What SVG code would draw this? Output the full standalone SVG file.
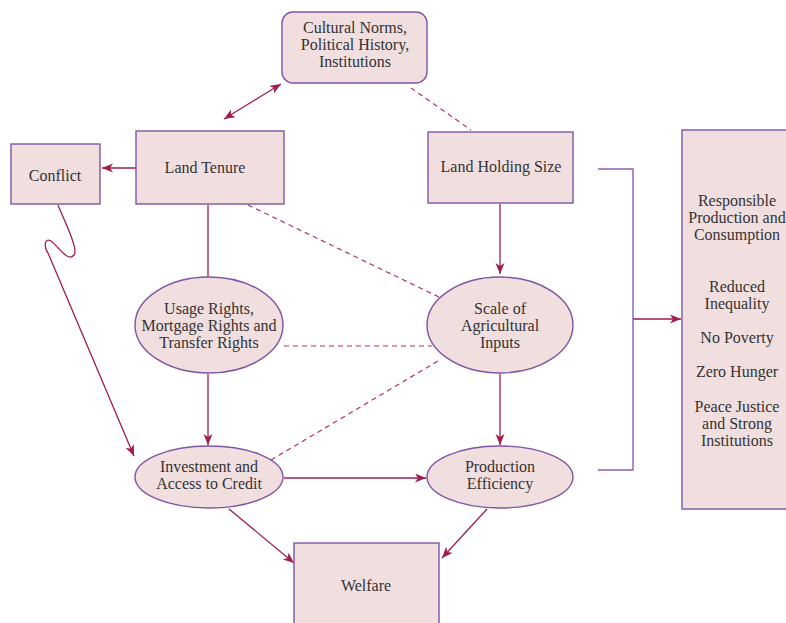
<svg xmlns="http://www.w3.org/2000/svg" width="786" height="623" viewBox="0 0 786 623">
  <style>
    .node { fill: #f1dfe0; stroke: #7d55a3; stroke-width: 1.4; }
    .lbl { font-family: "Liberation Serif", "Times New Roman", serif; font-size: 16px; fill: #333333; text-anchor: middle; }
    .edge { fill: none; stroke: #a11d4e; stroke-width: 1.3; }
    .dash { fill: none; stroke: #b0345f; stroke-width: 1.2; stroke-dasharray: 5 4; }
    .brace { fill: none; stroke: #8a5fae; stroke-width: 1.4; }
  </style>
  <defs>
    <marker id="arrow" markerUnits="userSpaceOnUse" markerWidth="12" markerHeight="10" refX="11" refY="4.5" orient="auto-start-reverse">
      <path d="M0,0 L11,4.5 L0,9 L3,4.5 z" fill="#a11d4e"/>
    </marker>
  </defs>

  <rect width="786" height="623" fill="#ffffff"/>

  <!-- connectors -->
  <g id="connectors">
    <line class="edge" x1="224" y1="119" x2="281" y2="84" marker-start="url(#arrow)" marker-end="url(#arrow)"/>
    <line class="dash" x1="411" y1="88" x2="471" y2="130"/>
    <line class="edge" x1="136" y1="168" x2="102" y2="168" marker-end="url(#arrow)"/>
    <line class="edge" x1="208" y1="205" x2="208" y2="277"/>
    <line class="dash" x1="248" y1="205" x2="441" y2="298"/>
    <line class="edge" x1="500" y1="204" x2="500" y2="274" marker-end="url(#arrow)"/>
    <line class="dash" x1="284" y1="346" x2="432" y2="346"/>
    <line class="dash" x1="271" y1="460" x2="438" y2="361"/>
    <line class="edge" x1="208" y1="374" x2="208" y2="445" marker-end="url(#arrow)"/>
    <line class="edge" x1="500" y1="374" x2="500" y2="445" marker-end="url(#arrow)"/>
    <line class="edge" x1="284" y1="478" x2="426" y2="478" marker-end="url(#arrow)"/>
    <line class="edge" x1="229" y1="509" x2="294" y2="563" marker-end="url(#arrow)"/>
    <line class="edge" x1="487" y1="509" x2="442" y2="558" marker-end="url(#arrow)"/>
    <path class="edge" d="M58,205 C64,220 79,250 74,255 C68,263 58,246 51,241 C44,237 44,248 48,253 L134,456" marker-end="url(#arrow)"/>
    <polyline class="brace" points="598,169 633,169 633,470 598,470"/>
    <line class="edge" x1="633" y1="319" x2="681" y2="319" marker-end="url(#arrow)"/>
  </g>

  <g id="cultural-norms">
    <rect class="node" x="282" y="12" width="145" height="71" rx="11"/>
    <text class="lbl" x="355" y="33">Cultural Norms,</text>
    <text class="lbl" x="355" y="50">Political History,</text>
    <text class="lbl" x="355" y="67">Institutions</text>
  </g>

  <g id="conflict">
    <rect class="node" x="11" y="144" width="89" height="60"/>
    <text class="lbl" x="55" y="181">Conflict</text>
  </g>

  <g id="land-tenure">
    <rect class="node" x="136" y="131" width="148" height="73"/>
    <text class="lbl" x="205" y="173">Land Tenure</text>
  </g>

  <g id="land-holding-size">
    <rect class="node" x="428" y="132" width="145" height="71"/>
    <text class="lbl" x="501" y="172">Land Holding Size</text>
  </g>

  <g id="usage-rights">
    <ellipse class="node" cx="209" cy="325" rx="74" ry="48"/>
    <text class="lbl" x="209" y="314">Usage Rights,</text>
    <text class="lbl" x="209" y="331">Mortgage Rights and</text>
    <text class="lbl" x="209" y="348">Transfer Rights</text>
  </g>

  <g id="scale-of-inputs">
    <ellipse class="node" cx="500" cy="325" rx="73" ry="48"/>
    <text class="lbl" x="500" y="314">Scale of</text>
    <text class="lbl" x="500" y="331">Agricultural</text>
    <text class="lbl" x="500" y="348">Inputs</text>
  </g>

  <g id="investment-credit">
    <ellipse class="node" cx="209" cy="477" rx="74" ry="31"/>
    <text class="lbl" x="209" y="472">Investment and</text>
    <text class="lbl" x="209" y="489">Access to Credit</text>
  </g>

  <g id="production-efficiency">
    <ellipse class="node" cx="500" cy="477" rx="73" ry="31"/>
    <text class="lbl" x="500" y="472">Production</text>
    <text class="lbl" x="500" y="489">Efficiency</text>
  </g>

  <g id="welfare">
    <rect class="node" x="294" y="543" width="145" height="90"/>
    <text class="lbl" x="366" y="591">Welfare</text>
  </g>

  <g id="goals">
    <rect class="node" x="682" y="130" width="120" height="379"/>
    <text class="lbl" x="737" y="206">Responsible</text>
    <text class="lbl" x="737" y="223">Production and</text>
    <text class="lbl" x="737" y="240">Consumption</text>
    <text class="lbl" x="737" y="292">Reduced</text>
    <text class="lbl" x="737" y="309">Inequality</text>
    <text class="lbl" x="737" y="343">No Poverty</text>
    <text class="lbl" x="737" y="377">Zero Hunger</text>
    <text class="lbl" x="737" y="412">Peace Justice</text>
    <text class="lbl" x="737" y="429">and Strong</text>
    <text class="lbl" x="737" y="446">Institutions</text>
  </g>
</svg>
